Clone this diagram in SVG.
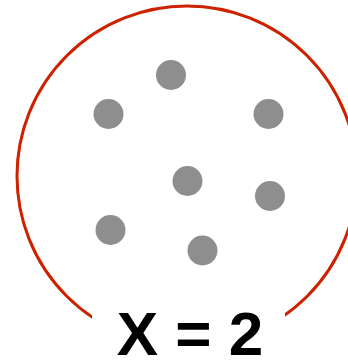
<svg xmlns="http://www.w3.org/2000/svg" width="348" height="360" viewBox="0 0 348 360">
<style>
.dot{fill:#8e8e8e}
.ring{fill:none;stroke:#cc2200;stroke-width:3}
.label{font-family:"Liberation Sans",Arial,sans-serif;font-weight:bold;font-size:62px;fill:#000;text-anchor:middle}
</style>
<rect width="348" height="360" fill="#fff"/>
<g id="ring"><circle class="ring" cx="187" cy="176" r="170"/></g>
<rect x="92" y="300" width="193" height="60" fill="#fff"/>
<g id="dots">
<circle id="d1" class="dot" cx="171" cy="75" r="15"/>
<circle id="d2" class="dot" cx="108.5" cy="114" r="15"/>
<circle id="d3" class="dot" cx="268.5" cy="114" r="15"/>
<circle id="d4" class="dot" cx="187.5" cy="181" r="15"/>
<circle id="d5" class="dot" cx="270" cy="196" r="15"/>
<circle id="d6" class="dot" cx="110.5" cy="230" r="15"/>
<circle id="d7" class="dot" cx="202.5" cy="250.5" r="15"/>
</g>
<g id="label"><text class="label" x="190" y="355">X = 2</text></g>
</svg>
